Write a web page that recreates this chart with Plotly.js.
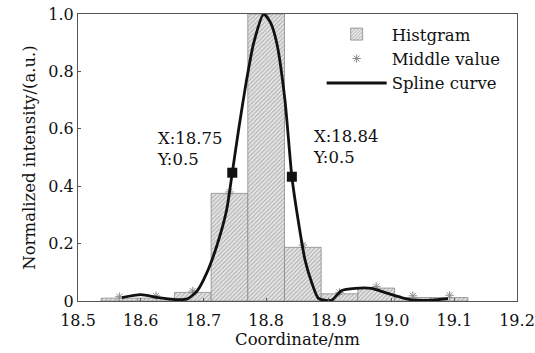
<!DOCTYPE html>
<html><head><meta charset="utf-8">
<script src="https://cdn.plot.ly/plotly-3.0.1.min.js"></script>
<style>html,body{margin:0;padding:0;background:#fff}#chart{width:535px;height:353px}</style>
</head><body><div id="chart"></div>
<script>
// Histogram bins
const binCenters = [18.566, 18.6245, 18.683, 18.7415, 18.80, 18.8585, 18.917, 18.9755, 19.034, 19.0925];
const histValues = [0.01, 0.01, 0.03, 0.375, 1.0, 0.187, 0.025, 0.045, 0.012, 0.012];
const binWidth = 0.0585;
// Middle values (stars)
const midValues = [0.015, 0.018, 0.035, 0.38, 1.0, 0.195, 0.03, 0.05, 0.018, 0.02];
// Spline curve samples
const splineX = [18.57, 18.60, 18.628, 18.655, 18.675, 18.69, 18.705, 18.721, 18.737, 18.746, 18.756, 18.768, 18.780, 18.796, 18.807, 18.817, 18.830, 18.841, 18.851, 18.862, 18.873, 18.883, 18.895, 18.905, 18.92, 18.942, 18.968, 18.99, 19.016, 19.032, 19.064, 19.09];
const splineY = [0.012, 0.022, 0.012, 0.005, 0.008, 0.035, 0.096, 0.19, 0.317, 0.447, 0.596, 0.76, 0.898, 1.0, 0.97, 0.898, 0.70, 0.433, 0.282, 0.143, 0.062, 0.01, 0.002, 0.003, 0.036, 0.044, 0.044, 0.029, 0.012, 0.004, 0.003, 0.008];
// Half-maximum markers
const markX = [18.746, 18.841];
const markY = [0.447, 0.433];
const markLabels = ["X:18.75<br>Y:0.5", "X:18.84<br>Y:0.5"];
const labelX = [18.623, 18.871];
const labelY = [0.528, 0.535];
// Axis ticks
const xTicks = [18.5, 18.6, 18.7, 18.8, 18.9, 19.0, 19.1, 19.2];
const xTickText = ["18.5", "18.6", "18.7", "18.8", "18.9", "19.0", "19.1", "19.2"];
const yTicks = [0, 0.2, 0.4, 0.6, 0.8, 1.0];
const yTickText = ["0", "0.2", "0.4", "0.6", "0.8", "1.0"];

const FONT = "DejaVu Serif";

const traces = [
  {
    type: 'bar', name: 'Histgram', x: binCenters, y: histValues,
    width: binCenters.map(() => binWidth),
    marker: {
      color: '#dcdcdc',
      line: {color: '#8a8a8a', width: 0.8},
      pattern: {shape: '/', fgcolor: '#a8a8a8', bgcolor: '#e4e4e4', size: 3, solidity: 0.3}
    }
  },
  {
    type: 'scatter', mode: 'markers', name: 'Middle value', x: binCenters, y: midValues,
    marker: {symbol: 'asterisk-open', size: 7, color: '#8a8a8a', line: {color: '#8a8a8a', width: 1}}
  },
  {
    type: 'scatter', mode: 'lines', name: 'Spline curve', x: splineX, y: splineY,
    line: {shape: 'spline', smoothing: 0.6, color: '#111', width: 2.8}
  },
  {
    type: 'scatter', mode: 'markers', x: markX, y: markY, showlegend: false,
    marker: {symbol: 'square', size: 10, color: '#111'}
  }
];

const annotations = markLabels.map((t, i) => ({
  x: labelX[i], y: labelY[i], xref: 'x', yref: 'y', text: t, showarrow: false,
  xanchor: 'left', yanchor: 'middle', align: 'left',
  font: {family: FONT, size: 16.5, color: '#111'}
}));

const layout = {
  width: 535, height: 353,
  margin: {l: 78, r: 18, t: 14, b: 52},
  paper_bgcolor: '#fff', plot_bgcolor: '#fff',
  font: {family: FONT, size: 16, color: '#111'},
  barmode: 'overlay',
  showlegend: true,
  legend: {
    x: 0.555, y: 0.99, xanchor: 'left', yanchor: 'top',
    bgcolor: 'rgba(0,0,0,0)', borderwidth: 0,
    font: {family: FONT, size: 16.5, color: '#111'},
    itemwidth: 60, tracegroupgap: 0
  },
  xaxis: {
    range: [18.5, 19.2], tickvals: xTicks, ticktext: xTickText,
    showline: true, mirror: true, linecolor: '#555', linewidth: 1,
    ticks: 'inside', ticklen: 3, tickcolor: '#555',
    showgrid: false, zeroline: false, ticklabelstandoff: 5,
    tickfont: {family: FONT, size: 16, color: '#111'},
    title: {text: 'Coordinate/nm', font: {family: FONT, size: 16.5, color: '#111'}, standoff: 2}
  },
  yaxis: {
    range: [0, 1.0], tickvals: yTicks, ticktext: yTickText,
    showline: true, mirror: true, linecolor: '#555', linewidth: 1,
    ticks: 'inside', ticklen: 3, tickcolor: '#555',
    showgrid: false, zeroline: false,
    tickfont: {family: FONT, size: 16, color: '#111'},
    title: {text: 'Normalized intensity/(a.u.)', font: {family: FONT, size: 16.5, color: '#111'}, standoff: 8}
  },
  annotations: annotations
};

Plotly.newPlot('chart', traces, layout, {displayModeBar: false, staticPlot: true});
</script>
</body></html>
